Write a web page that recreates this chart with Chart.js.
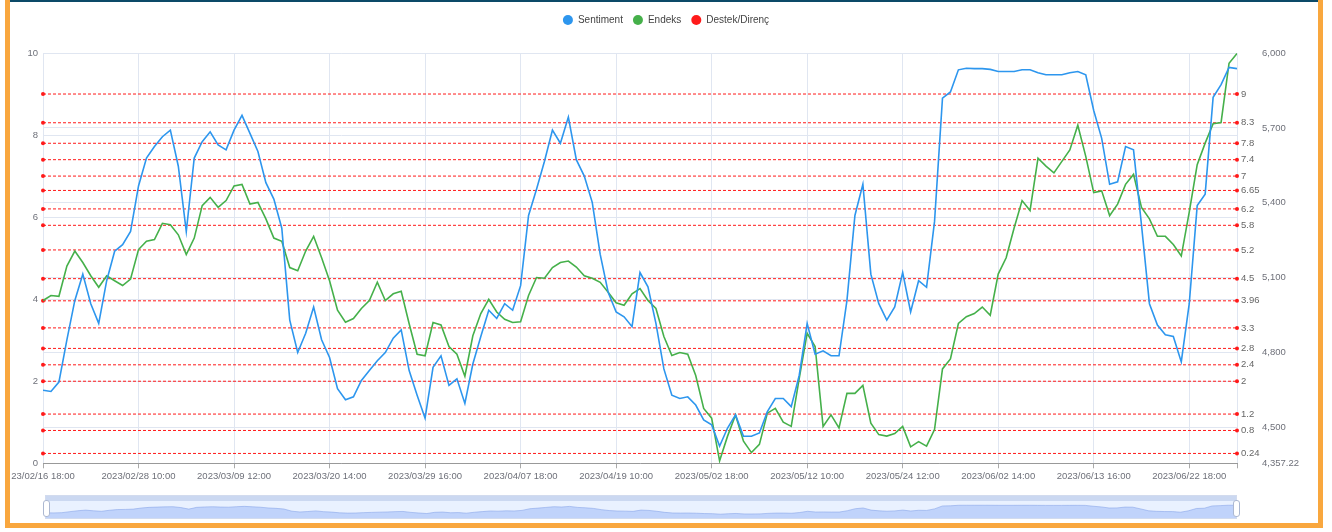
<!DOCTYPE html>
<html>
<head>
<meta charset="utf-8">
<script src="https://cdn.jsdelivr.net/npm/chart.js@4.4.1/dist/chart.umd.min.js"></script>
<style>
  html, body { margin: 0; padding: 0; background: #fff; }
  body { width: 1332px; height: 532px; position: relative; overflow: hidden; font-family: "Liberation Sans", Arial, sans-serif; }
  #frame { position: absolute; left: 5px; top: 0; width: 1308px; height: 523px;
           border-left: 5px solid #f9a73e; border-right: 5px solid #f9a73e; border-bottom: 5px solid #f9a73e; }
  #topline { position: absolute; left: 10px; top: 0; width: 1308px; height: 2px; background: #0c4a68; }
  #main { position: absolute; left: 0; top: 0; }
  #zoomWrap { position: absolute; left: 45px; top: 495px; width: 1192px; height: 24px;
              background: rgba(135,175,255,0.18); box-sizing: border-box; border: 1px solid #d2dbee; }
  #zoomTop { position: absolute; left: 0; top: 0; width: 100%; height: 5px; background: rgba(190,205,235,0.7); }
  #shadow { position: absolute; left: 0; top: 5px; }
  .handle { position: absolute; top: 4px; width: 5px; height: 15px; background: #fff;
            border: 1px solid #acb8d1; border-radius: 3px; }
</style>
</head>
<body>
<div id="frame"></div>
<div id="topline"></div>
<canvas id="main" width="1332" height="494"></canvas>
<div id="zoomWrap">
  <div id="zoomTop"></div>
  <canvas id="shadow" width="1190" height="17"></canvas>
  <div class="handle" style="left:-3px"></div>
  <div class="handle" style="right:-4px"></div>
</div>
<script>
// x tick labels (every 12th point)
const tickIndex = [0, 12, 24, 36, 48, 60, 72, 84, 96, 108, 120, 132, 144];
const tickLabels = [
  "23/02/16 18:00", "2023/02/28 10:00", "2023/03/09 12:00", "2023/03/20 14:00",
  "2023/03/29 16:00", "2023/04/07 18:00", "2023/04/19 10:00", "2023/05/02 18:00",
  "2023/05/12 10:00", "2023/05/24 12:00", "2023/06/02 14:00", "2023/06/13 16:00",
  "2023/06/22 18:00"
];
const lastIndex = 150;

// Sentiment (left axis 0-10)
const sentiment = [
  1.78, 1.75, 1.98, 3.01, 3.97, 4.61, 3.89, 3.41, 4.45, 5.17,
  5.33, 5.65, 6.76, 7.44, 7.72, 7.96, 8.12, 7.24, 5.65, 7.44,
  7.84, 8.08, 7.76, 7.64, 8.12, 8.48, 8.04, 7.60, 6.84, 6.44,
  5.73, 3.49, 2.70, 3.17, 3.81, 3.01, 2.58, 1.82, 1.55, 1.62,
  2.02, 2.26, 2.50, 2.70, 3.05, 3.25, 2.26, 1.66, 1.10, 2.34,
  2.62, 1.90, 2.06, 1.46, 2.42, 3.09, 3.73, 3.53, 3.89, 3.73,
  4.33, 6.04, 6.68, 7.36, 8.12, 7.80, 8.44, 7.40, 7.00, 6.36,
  5.09, 4.17, 3.69, 3.57, 3.33, 4.65, 4.30, 3.41, 2.30, 1.66,
  1.58, 1.62, 1.42, 1.06, 0.94, 0.42, 0.86, 1.18, 0.66, 0.66,
  0.74, 1.26, 1.58, 1.58, 1.38, 2.14, 3.41, 2.66, 2.74, 2.62,
  2.62, 3.97, 6.04, 6.80, 4.61, 3.89, 3.49, 3.81, 4.65, 3.69,
  4.45, 4.29, 5.89, 8.90, 9.05, 9.59, 9.63, 9.62, 9.62, 9.60,
  9.55, 9.55, 9.55, 9.59, 9.59, 9.52, 9.47, 9.47, 9.47, 9.52,
  9.55, 9.47, 8.60, 7.92, 6.80, 6.86, 7.72, 7.64, 5.81, 3.89,
  3.37, 3.13, 3.09, 2.47, 3.89, 6.28, 6.56, 8.92, 9.23, 9.65,
  9.62
];

// Endeks (right axis)
const endeks = [
  5009, 5029, 5026, 5147, 5207, 5161, 5108, 5062, 5108, 5088,
  5069, 5095, 5213, 5246, 5253, 5318, 5312, 5272, 5193, 5259,
  5389, 5422, 5382, 5409, 5468, 5474, 5395, 5402, 5336, 5259,
  5246, 5141, 5128, 5207, 5266, 5180, 5088, 4970, 4922, 4937,
  4977, 5009, 5082, 5009, 5036, 5046, 4916, 4794, 4788, 4921,
  4911, 4825, 4794, 4706, 4868, 4957, 5014, 4963, 4934, 4921,
  4924, 5029, 5101, 5098, 5141, 5161, 5167, 5143, 5108, 5098,
  5082, 5042, 5000, 4990, 5036, 5057, 5009, 4977, 4865, 4789,
  4801, 4794, 4709, 4577, 4538, 4367, 4466, 4551, 4446, 4400,
  4433, 4558, 4577, 4522, 4505, 4696, 4878, 4825, 4505, 4551,
  4499, 4637, 4637, 4669, 4518, 4472, 4466, 4476, 4505, 4423,
  4444, 4426, 4492, 4735, 4775, 4917, 4944, 4957, 4983, 4950,
  5115, 5180, 5299, 5409, 5369, 5579, 5547, 5520, 5566, 5612,
  5711, 5586, 5441, 5448, 5349, 5395, 5474, 5514, 5382, 5336,
  5266, 5266, 5233, 5187, 5363, 5553, 5639, 5717, 5722, 5959,
  5998
];

// Destek/Direnç levels (left axis)
const levels = [9, 8.3, 7.8, 7.4, 7, 6.65, 6.2, 5.8, 5.2, 4.5, 3.96, 3.3, 2.8, 2.4, 2, 1.2, 0.8, 0.24];

const rightTicks = [4357.22, 4500, 4800, 5100, 5400, 5700, 6000];

Chart.defaults.font.family = '"Liberation Sans", Arial, sans-serif';
Chart.defaults.animation = false;

const blue = "#2d96ee";
const green = "#45b04a";
const red = "#ff1a1a";
const axisText = "#6e7079";
const gridColor = "#e0e6f1";

const levelData = [];
levels.forEach(lv => {
  levelData.push({ x: 0, y: lv }, { x: lastIndex, y: lv }, { x: lastIndex, y: null });
});

// keep legend block at a fixed height so the plot starts at y=53
const legendFix = {
  id: "legendFix",
  beforeUpdate(chart) {
    const lg = chart.legend;
    if (lg && !lg._fixed) {
      const fit = lg.fit;
      lg.fit = function () { fit.call(this); this.height = 48; };
      lg._fixed = true;
    }
  }
};

// value labels at the right end of each support/resistance line
const levelLabels = {
  id: "levelLabels",
  afterDatasetsDraw(chart) {
    const { ctx, chartArea } = chart;
    const y = chart.scales.y;
    ctx.save();
    ctx.font = '9.5px "Liberation Sans", Arial, sans-serif';
    ctx.fillStyle = "#666";
    ctx.textBaseline = "middle";
    ctx.textAlign = "left";
    levels.forEach(lv => ctx.fillText(String(lv), chartArea.right + 4, y.getPixelForValue(lv)));
    ctx.restore();
  }
};

new Chart(document.getElementById("main"), {
  type: "line",
  data: {
    datasets: [
      {
        label: "Sentiment",
        data: sentiment.map((v, i) => ({ x: i, y: v })),
        yAxisID: "y",
        borderColor: blue,
        backgroundColor: blue,
        borderWidth: 1.6,
        pointRadius: 0,
        tension: 0
      },
      {
        label: "Endeks",
        data: endeks.map((v, i) => ({ x: i, y: v })),
        yAxisID: "y1",
        borderColor: green,
        backgroundColor: green,
        borderWidth: 1.6,
        pointRadius: 0,
        tension: 0
      },
      {
        label: "Destek/Direnç",
        data: levelData,
        yAxisID: "y",
        borderColor: red,
        backgroundColor: red,
        borderWidth: 1,
        borderDash: [3, 2],
        pointRadius: 2,
        pointBorderWidth: 0,
        pointBackgroundColor: red,
        spanGaps: false,
        clip: false
      }
    ]
  },
  options: {
    responsive: false,
    layout: { padding: { top: 5, left: 0, right: 0, bottom: 0 } },
    plugins: {
      legend: {
        position: "top",
        labels: {
          usePointStyle: true,
          pointStyle: "circle",
          boxHeight: 7,
          pointStyleWidth: 10,
          padding: 10,
          color: "#444",
          font: { size: 10 },
          generateLabels(chart) {
            const items = Chart.defaults.plugins.legend.labels.generateLabels(chart);
            items.forEach(it => { it.lineDash = []; it.lineWidth = 0; it.strokeStyle = it.fillStyle; });
            return items;
          }
        }
      },
      tooltip: { enabled: false }
    },
    scales: {
      x: {
        type: "linear",
        min: 0,
        max: lastIndex,
        afterBuildTicks(scale) {
          scale.ticks = tickIndex.concat([lastIndex]).map(v => ({ value: v }));
        },
        afterFit(scale) { scale.height = 23; },
        ticks: {
          autoSkip: false,
          maxRotation: 0,
          color: axisText,
          font: { size: 9.5 },
          padding: 2,
          callback: (value, index) => tickLabels[index] || ""
        },
        grid: { color: gridColor, tickLength: 5, tickColor: "#aaa" },
        border: { display: true, color: "#999" }
      },
      y: {
        position: "left",
        min: 0,
        max: 10,
        afterFit(scale) { scale.width = 43; },
        ticks: { stepSize: 2, color: axisText, font: { size: 9.5 }, padding: 5 },
        grid: { color: gridColor, drawTicks: false },
        border: { display: false }
      },
      y1: {
        position: "right",
        min: 4357.22,
        max: 6000,
        afterBuildTicks(scale) {
          scale.ticks = rightTicks.map(v => ({ value: v }));
        },
        afterFit(scale) { scale.width = 95; },
        ticks: {
          color: axisText,
          font: { size: 9.5 },
          padding: 25,
          callback: v => v.toLocaleString("en-US")
        },
        grid: { color: gridColor, drawTicks: false },
        border: { display: false }
      }
    }
  },
  plugins: [legendFix, levelLabels]
});

// data-zoom shadow strip
new Chart(document.getElementById("shadow"), {
  type: "line",
  data: {
    datasets: [{
      data: sentiment.map((v, i) => ({ x: i, y: v })),
      borderColor: "rgba(130,160,230,0.9)",
      backgroundColor: "rgba(143,176,247,0.45)",
      borderWidth: 0.6,
      pointRadius: 0,
      fill: "start",
      tension: 0
    }]
  },
  options: {
    responsive: false,
    layout: { padding: 0 },
    plugins: { legend: { display: false }, tooltip: { enabled: false } },
    scales: {
      x: { type: "linear", min: 0, max: lastIndex, display: false },
      y: { min: -3.5, max: 14, display: false }
    }
  }
});
</script>
</body>
</html>
